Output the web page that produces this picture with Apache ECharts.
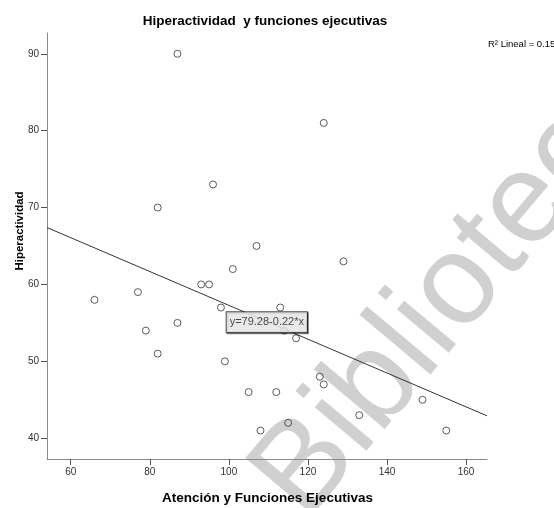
<!DOCTYPE html>
<html>
<head>
<meta charset="utf-8">
<script src="https://cdn.jsdelivr.net/npm/echarts@6/dist/echarts.min.js"></script>
<style>
  html, body { margin: 0; padding: 0; background: #fff; }
  #chart { width: 554px; height: 508px; }
</style>
</head>
<body>
<div id="chart"></div>
<script>
// puntos: Atención y Funciones Ejecutivas (x) / Hiperactividad (y)
const atencion = [66, 77, 79, 82, 82, 87, 87, 93, 95, 96, 98, 99, 101, 105, 107, 108, 112, 113, 114, 117, 115, 124, 129, 123, 124, 133, 149, 155];
const hiperactividad = [58, 59, 54, 70, 51, 90, 55, 60, 60, 73, 57, 50, 62, 46, 65, 41, 46, 57, 54, 53, 42, 81, 63, 48, 47, 43, 45, 41];
const xTicks = [60, 80, 100, 120, 140, 160];
const yTicks = [40, 50, 60, 70, 80, 90];
const xRange = [54, 165.3];
const yRange = [37.3, 92.7];

// recta de ajuste lineal
const intercepto = 79.28;
const pendiente = -0.22;
const etiquetaRecta = 'y=79.28-0.22*x';
const etiquetaPos = [109.6, 55.1];
const r2Texto = 'R² Lineal = 0.15';

const fuente = '"Liberation Sans", Arial, sans-serif';

const chart = echarts.init(document.getElementById('chart'));

function eje(range, ticks) {
  return {
    type: 'value',
    min: range[0],
    max: range[1],
    axisLine: { show: true, onZero: false, lineStyle: { color: '#8a8a8a', width: 1 } },
    axisTick: { show: true, length: 6, customValues: ticks, lineStyle: { color: '#555' } },
    axisLabel: { customValues: ticks, color: '#333', fontSize: 10, fontFamily: fuente, margin: 8 },
    splitLine: { show: false }
  };
}

const option = {
  animation: false,
  grid: { left: 47, top: 33, width: 440, height: 426 },
  xAxis: eje(xRange, xTicks),
  yAxis: eje(yRange, yTicks),
  series: [
    {
      type: 'scatter',
      data: atencion.map((x, i) => [x, hiperactividad[i]]),
      symbol: 'circle',
      symbolSize: 7,
      itemStyle: { color: 'rgba(0,0,0,0)', borderColor: '#333', borderWidth: 1 },
      z: 3
    },
    {
      type: 'line',
      data: xRange.map(x => [x, intercepto + pendiente * x]),
      symbol: 'none',
      lineStyle: { color: '#333', width: 1 },
      z: 4
    },
    {
      type: 'scatter',
      data: [etiquetaPos],
      symbolSize: 1,
      itemStyle: { color: 'rgba(0,0,0,0)' },
      z: 5,
      label: {
        show: true,
        position: 'inside',
        formatter: etiquetaRecta,
        fontFamily: fuente,
        fontSize: 11,
        lineHeight: 13,
        color: '#222',
        backgroundColor: '#fff',
        borderColor: '#222',
        borderWidth: 1,
        padding: [4, 3, 3, 3],
        shadowColor: 'rgba(0,0,0,0.55)',
        shadowOffsetX: 1,
        shadowOffsetY: 1
      }
    }
  ],
  graphic: [
    {
      type: 'text', z: -10,
      x: 279, y: 500, rotation: 50 * Math.PI / 180,
      style: { text: 'Biblioteca', font: '128px ' + fuente, fill: '#d0d0d0', align: 'left', verticalAlign: 'middle' }
    },
    {
      type: 'text', z: 10, x: 265, y: 21,
      style: { text: 'Hiperactividad  y funciones ejecutivas', font: 'bold 13.5px ' + fuente, fill: '#000', align: 'center', verticalAlign: 'middle' }
    },
    {
      type: 'text', z: 10, x: 267.5, y: 498,
      style: { text: 'Atención y Funciones Ejecutivas', font: 'bold 13.5px ' + fuente, fill: '#000', align: 'center', verticalAlign: 'middle' }
    },
    {
      type: 'text', z: 10, x: 20, y: 231, rotation: Math.PI / 2,
      style: { text: 'Hiperactividad', font: 'bold 11.5px ' + fuente, fill: '#000', align: 'center', verticalAlign: 'middle' }
    },
    {
      type: 'text', z: 10, x: 488, y: 44,
      style: { text: r2Texto, font: '9.5px ' + fuente, fill: '#000', align: 'left', verticalAlign: 'middle' }
    }
  ]
};

chart.setOption(option);
</script>
</body>
</html>
